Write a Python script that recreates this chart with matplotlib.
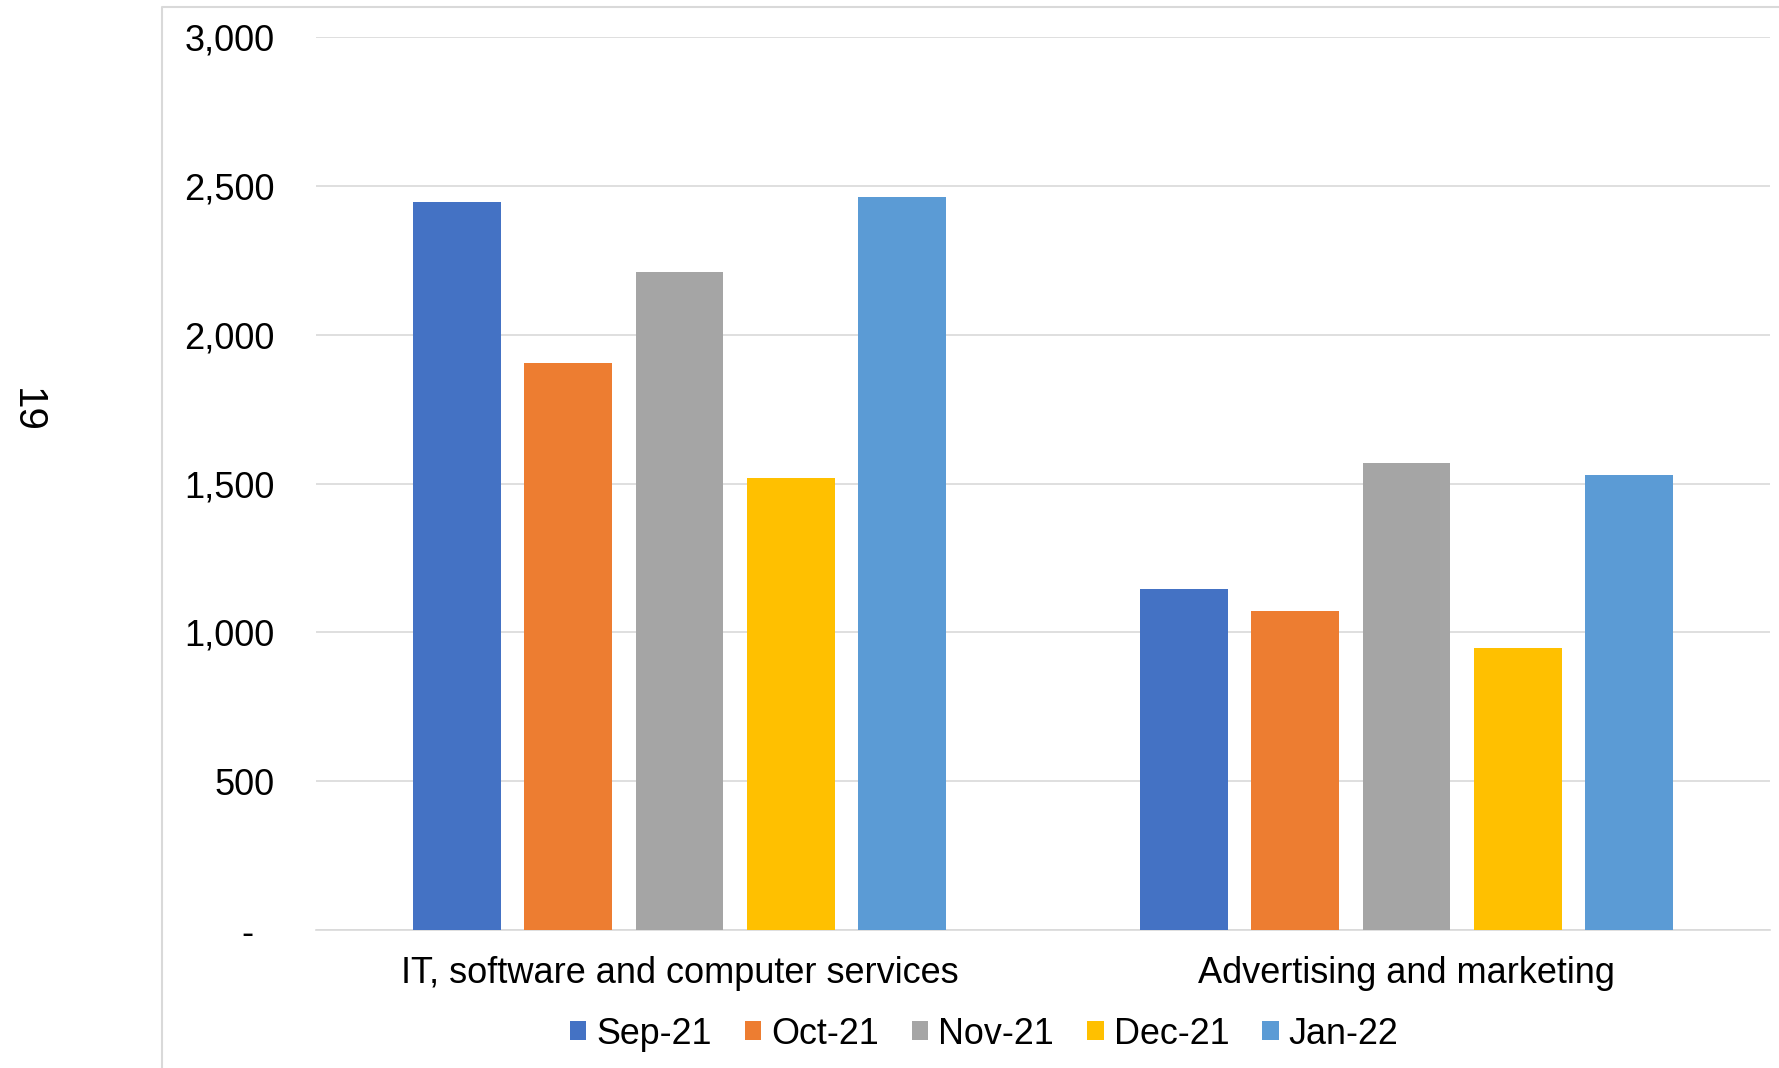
import matplotlib
matplotlib.use("Agg")
import matplotlib.pyplot as plt
from matplotlib.lines import Line2D
from matplotlib.ticker import FuncFormatter
import numpy as np

plt.rcParams['font.family'] = ['Liberation Sans', 'DejaVu Sans']

categories = ["IT, software and computer services", "Advertising and marketing"]
months = ["Sep-21", "Oct-21", "Nov-21", "Dec-21", "Jan-22"]
sep_21 = [2447, 1146]
oct_21 = [1905, 1073]
nov_21 = [2210, 1569]
dec_21 = [1517, 946]
jan_22 = [2464, 1528]
series = [sep_21, oct_21, nov_21, dec_21, jan_22]
colors = ["#4472C4", "#ED7D31", "#A5A5A5", "#FFC000", "#5B9BD5"]
y_ticks = [0, 500, 1000, 1500, 2000, 2500, 3000]

W, H = 1779, 1068
fig = plt.figure(figsize=(W / 100, H / 100), dpi=100)
ax = fig.add_axes([316 / W, 1 - 930 / H, (1770 - 316) / W, (930 - 37) / H])

x = np.arange(len(categories))
step = 0.153
width = 0.121
for i, (vals, col, lab) in enumerate(zip(series, colors, months)):
    ax.bar(x + (i - 2) * step, vals, width=width, color=col, label=lab, zorder=3)

ax.set_xlim(-0.5, 1.5)
ax.set_ylim(0, 3000)
ax.set_yticks(y_ticks)
ax.yaxis.set_major_formatter(FuncFormatter(lambda v, p: "-  " if v == 0 else f"{int(v):,}"))
ax.set_xticks(x)
ax.set_xticklabels(categories)

grid_col = "#D9D9D9"
ax.grid(axis="y", color=grid_col, linewidth=1.2, zorder=0)
for s in ["left", "right", "top"]:
    ax.spines[s].set_visible(False)
ax.spines["bottom"].set_color(grid_col)
ax.spines["bottom"].set_linewidth(1.2)
ax.tick_params(axis="both", length=0, labelsize=26, colors="black")
ax.tick_params(axis="y", pad=30)
ax.tick_params(axis="x", pad=19)

leg = fig.legend(loc="center", bbox_to_anchor=(984 / W, 1 - 1034 / H), ncol=5,
                 frameon=False, fontsize=25.8, handlelength=0.46, handleheight=0.46,
                 handletextpad=0.28, columnspacing=0.92)

# chart area border (left and top edges)
bx = 162 / W
by = 1 - 6.5 / H
fig.add_artist(Line2D([bx, bx, 1.0], [0.0, by, by], color=grid_col, linewidth=1.5,
                      transform=fig.transFigure))

fig.text(27 / W, 1 - 410 / H, "19", rotation=-90, fontsize=29, ha="center", va="center")

fig.savefig("out.png", dpi=100, facecolor="white")
